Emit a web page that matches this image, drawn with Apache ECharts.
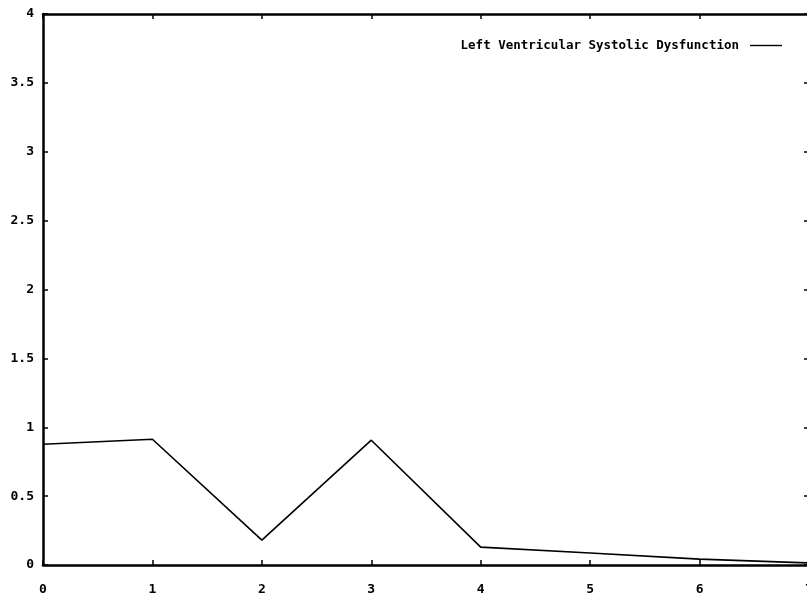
<!DOCTYPE html>
<html>
<head>
<meta charset="utf-8">
<script src="https://cdn.jsdelivr.net/npm/echarts@6/dist/echarts.min.js"></script>
<style>
html,body{margin:0;padding:0;background:#fff;}
#chart{width:807px;height:599px;}
</style>
</head>
<body>
<div id="chart"></div>
<script>
var seriesName = 'Left Ventricular Systolic Dysfunction';
var xValues = [0, 1, 2, 3, 4, 5, 6, 7];
var yValues = [0.877, 0.913, 0.18, 0.906, 0.13, 0.087, 0.043, 0.015];

var font = 'DejaVu Sans Mono';
var points = xValues.map(function(x, i){ return [x, yValues[i]]; });

var chart = echarts.init(document.getElementById('chart'));
chart.setOption({
	backgroundColor:'#fff',
	animation:false,
	grid:{
		left:43,
		right:-2,
		top:14,
		bottom:34,
		outerBoundsMode:'none',
		containLabel:false
	},
	legend:{
		data:[{name:seriesName, icon:'path://M0,0H32V1.4H0Z'}],
		right:20,
		top:34,
		align:'right',
		itemWidth:32,
		itemHeight:2,
		itemGap:0,
		textStyle:{fontFamily:font, fontSize:12.5, fontWeight:'bold', color:'#000', padding:[0,6,0,0]}
	},
	xAxis:[{
		type:'value',
		min:0, max:7, interval:1,
		axisLine:{show:true, onZero:false, lineStyle:{color:'#000', width:2.5}},
		axisTick:{show:true, inside:true, length:5, lineStyle:{color:'#000', width:1.5}},
		splitLine:{show:false},
		axisLabel:{fontFamily:font, fontSize:13, fontWeight:'bold', color:'#000', margin:18}
	},{
		type:'value',
		position:'top',
		min:0, max:7, interval:1,
		axisLine:{show:true, onZero:false, lineStyle:{color:'#000', width:2.5}},
		axisTick:{show:true, inside:true, length:5, lineStyle:{color:'#000', width:1.5}},
		splitLine:{show:false},
		axisLabel:{show:false}
	}],
	yAxis:[{
		type:'value',
		min:0, max:4, interval:0.5,
		axisLine:{show:true, onZero:false, lineStyle:{color:'#000', width:2.5}},
		axisTick:{show:true, inside:true, length:5, lineStyle:{color:'#000', width:1.5}},
		splitLine:{show:false},
		axisLabel:{fontFamily:font, fontSize:13, fontWeight:'bold', color:'#000', margin:9}
	},{
		type:'value',
		position:'right',
		min:0, max:4, interval:0.5,
		axisLine:{show:false, onZero:false},
		axisTick:{show:true, inside:true, length:5, lineStyle:{color:'#000', width:1.5}},
		splitLine:{show:false},
		axisLabel:{show:false}
	}],
	series:[{
		name:seriesName,
		type:'line',
		data:points,
		symbol:'none',
		lineStyle:{color:'#000', width:1.6},
		itemStyle:{color:'#000'}
	}]
});
</script>
</body>
</html>
